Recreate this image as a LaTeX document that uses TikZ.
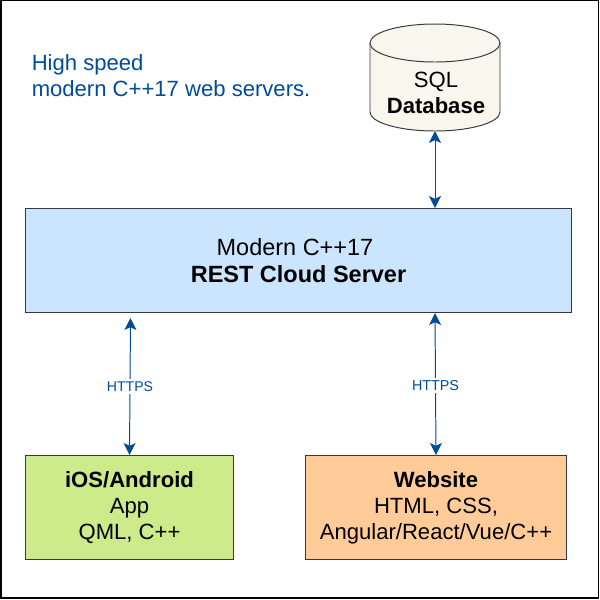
\documentclass[tikz,border=0pt]{standalone}
\usepackage{fontspec}
\setmainfont{Liberation Sans}
\usetikzlibrary{arrows.meta}
\definecolor{linkblue}{HTML}{004C99}
\definecolor{serverfill}{HTML}{CCE5FF}
\definecolor{appfill}{HTML}{CDEB8B}
\definecolor{webfill}{HTML}{FFCC99}
\definecolor{dbfill}{HTML}{F9F7ED}
\definecolor{edgegray}{HTML}{36393D}
\tikzset{
  box/.style={draw=edgegray,line width=0.7pt,align=center,inner sep=0pt,font=\fontsize{15.7}{18.5}\selectfont},
  link/.style={{Stealth[length=8.5pt,width=8.5pt,inset=2pt]}-{Stealth[length=8.5pt,width=8.5pt,inset=2pt]},draw=linkblue,line width=0.7pt},
  tag/.style={fill=white,text=linkblue,inner sep=1.5pt,font=\fontsize{10}{12}\selectfont}
}
\begin{document}
\begin{tikzpicture}[x=0.025cm,y=-0.025cm]
\useasboundingbox (0,0) rectangle (600,600);
\draw[line width=1pt] (1,0.5) rectangle (598.5,598);

\node[anchor=west,inner sep=0pt,text=linkblue,align=left,font=\fontsize{15.7}{18.5}\selectfont] (title) at (31.5,75.5) {High speed\\modern C++17 web servers.};

% database drum
\draw[edgegray,fill=dbfill,line width=0.7pt] (370,43) -- (370,112) arc[start angle=180,end angle=0,x radius=65,y radius=19] -- (500,43);
\draw[edgegray,fill=dbfill,line width=0.7pt] (435,43) ellipse[x radius=65,y radius=19];
\node[align=center,inner sep=0pt,font=\fontsize{15.7}{18.5}\selectfont] (sql) at (436,92.5) {SQL\\\textbf{Database}};

\node[box,fill=serverfill,minimum width=13.65cm,minimum height=2.6cm,font=\fontsize{16.7}{19}\selectfont] (server) at (298.5,260.5) {Modern C++17\kern5pt\\\textbf{REST Cloud Server}};
\node[box,fill=appfill,minimum width=5.2cm,minimum height=2.6cm] (app) at (129.5,507.5) {\textbf{iOS/Android}\\App\\QML, C++};
\node[box,fill=webfill,minimum width=6.5cm,minimum height=2.6cm] (web) at (436,507.5) {\textbf{Website}\\HTML, CSS,\\Angular/React/Vue/C++};

\coordinate (sqlbase) at (435,131);
\coordinate (serverdb) at (435,208);
\coordinate (serverapp) at (130.5,318);
\coordinate (serverweb) at (435,313);

\draw[link] (sqlbase) -- (serverdb);
\draw[link] (serverapp) -- node[tag] {HTTPS} (app.north);
\draw[link] (serverweb) -- node[tag,pos=0.51,font=\fontsize{10.2}{12}\selectfont] {HTTPS} (web.north);
\end{tikzpicture}
\end{document}
